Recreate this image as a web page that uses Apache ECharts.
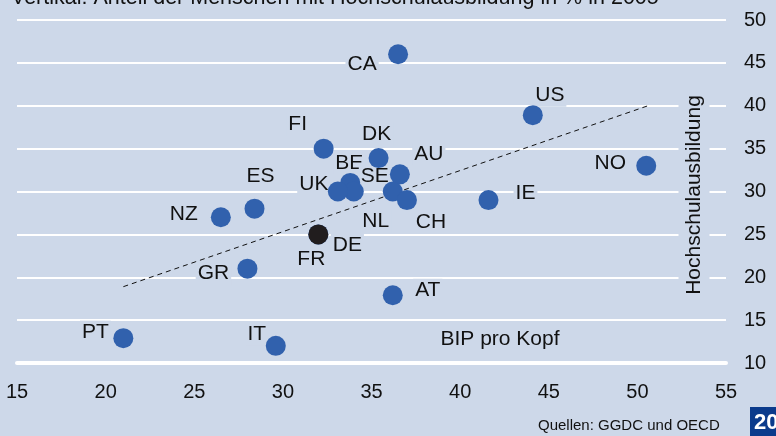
<!DOCTYPE html>
<html lang="de">
<head>
  <meta charset="UTF-8">
  <title>Hochschulausbildung und BIP pro Kopf</title>
  <script src="https://cdn.jsdelivr.net/npm/echarts@6/dist/echarts.min.js"></script>
  <style>
    html, body { margin: 0; padding: 0; background: #cdd8e9; }
    #chart { width: 776px; height: 436px; }
  </style>
</head>
<body>
<div id="chart"></div>
<script>
  // Daten: BIP pro Kopf (horizontal) und Anteil Hochschulausbildung in % (vertikal), 2005
  var laender = ['CA', 'US', 'NO', 'FI', 'DK', 'AU', 'BE', 'NL', 'UK', 'SE', 'CH', 'IE', 'FR', 'DE', 'ES', 'NZ', 'GR', 'AT', 'PT', 'IT'];
  var bipProKopf = [36.5, 44.1, 50.5, 32.3, 35.4, 36.6, 33.8, 34.0, 33.1, 36.2, 37.0, 41.6, 32.0, 32.0, 28.4, 26.5, 28.0, 36.2, 21.0, 29.6];
  var hochschule = [46, 38.9, 33, 35, 33.9, 32, 31, 30, 30, 30, 29, 29, 25, 25, 28, 27, 21, 17.9, 12.9, 12];
  // Trendlinie (Anfangs- und Endpunkt)
  var trendX = [21.0, 50.6];
  var trendY = [18.9, 40.0];
  var xTicks = [15, 55, 5];
  var yTicks = [10, 50, 5];

  var bg = '#cdd8e9';
  var blau = '#3161ad';
  // Versatz der Beschriftung zum Punkt (Pixel)
  var labelOffset = {
    CA: [-36, 10], US: [17, -20], NO: [-36, -3], FI: [-26, -24], DK: [-2, -24],
    AU: [29, -20], BE: [-1, -20], NL: [22, 30], UK: [-24, -7], SE: [-18, -15],
    CH: [24, 22], IE: [37, -7], FR: [-7, 25], DE: [29, 11], ES: [6, -32],
    NZ: [-37, -3], GR: [-34, 5], AT: [35, -5], PT: [-28, -6], IT: [-19, -12]
  };

  var punkte = laender.map(function (l, i) {
    return {
      name: l,
      value: [bipProKopf[i], hochschule[i]],
      itemStyle: { color: l === 'DE' ? '#211d1e' : blau }
    };
  });
  var beschriftung = laender.map(function (l, i) {
    return { name: l, value: [bipProKopf[i], hochschule[i]], label: { offset: labelOffset[l] } };
  });

  var chart = echarts.init(document.getElementById('chart'));
  var font = 'Liberation Sans, Arial, sans-serif';
  chart.setOption({
    backgroundColor: bg,
    animation: false,
    grid: { left: 17, right: 50, top: 20, bottom: 73 },
    xAxis: {
      type: 'value', min: xTicks[0], max: xTicks[1], interval: xTicks[2],
      axisLine: { show: true, onZero: false, lineStyle: { color: '#ffffff', width: 4 } },
      axisTick: { show: false },
      splitLine: { show: false },
      axisLabel: { color: '#111', fontSize: 20, fontFamily: font, margin: 19 }
    },
    yAxis: {
      type: 'value', position: 'right', min: yTicks[0], max: yTicks[1], interval: yTicks[2],
      axisLine: { show: false },
      axisTick: { show: false },
      splitLine: { lineStyle: { color: '#ffffff', width: 2 } },
      axisLabel: { color: '#111', fontSize: 20, fontFamily: font, margin: 18, align: 'left' }
    },
    series: [
      {
        type: 'line',
        data: [[trendX[0], trendY[0]], [trendX[1], trendY[1]]],
        symbol: 'none',
        lineStyle: { color: '#111', width: 1, type: [5, 4] },
        z: 2
      },
      {
        // nur Beschriftungen, unter den Punkten
        type: 'scatter',
        data: beschriftung,
        symbolSize: 1,
        itemStyle: { color: 'rgba(0,0,0,0)' },
        z: 3,
        label: {
          show: true, position: 'inside', formatter: '{b}',
          color: '#111', opacity: 1, fontSize: 21, fontFamily: font,
          backgroundColor: bg, padding: [1, 2]
        }
      },
      {
        type: 'scatter',
        data: punkte,
        symbolSize: 20,
        itemStyle: { opacity: 1 },
        z: 4
      }
    ],
    graphic: [
      {
        type: 'text', left: 11, top: -13, z: 100,
        style: { text: 'Vertikal: Anteil der Menschen mit Hochschulausbildung in % in 2005', fill: '#111', fontSize: 21.5, fontFamily: font }
      },
      {
        type: 'text', x: 694, y: 195, rotation: Math.PI / 2, z: 100,
        style: {
          text: 'Hochschulausbildung', fill: '#111', fontSize: 21, fontFamily: font,
          align: 'center', verticalAlign: 'middle', backgroundColor: bg, padding: [5, 6]
        }
      },
      {
        type: 'text', x: 500, y: 339, z: 100,
        style: { text: 'BIP pro Kopf', fill: '#111', fontSize: 21, fontFamily: font, align: 'center', verticalAlign: 'middle' }
      },
      {
        type: 'text', x: 538, y: 426, z: 100,
        style: { text: 'Quellen: GGDC und OECD', fill: '#111', fontSize: 15, fontFamily: font, verticalAlign: 'middle' }
      },
      {
        type: 'rect', shape: { x: 750, y: 407, width: 26, height: 29 }, z: 100,
        style: { fill: '#0b3b8c' }
      },
      {
        type: 'text', x: 754, y: 423, z: 101,
        style: { text: '20', fill: '#ffffff', fontSize: 22, fontWeight: 'bold', fontFamily: font, verticalAlign: 'middle' }
      }
    ]
  });
</script>
</body>
</html>
